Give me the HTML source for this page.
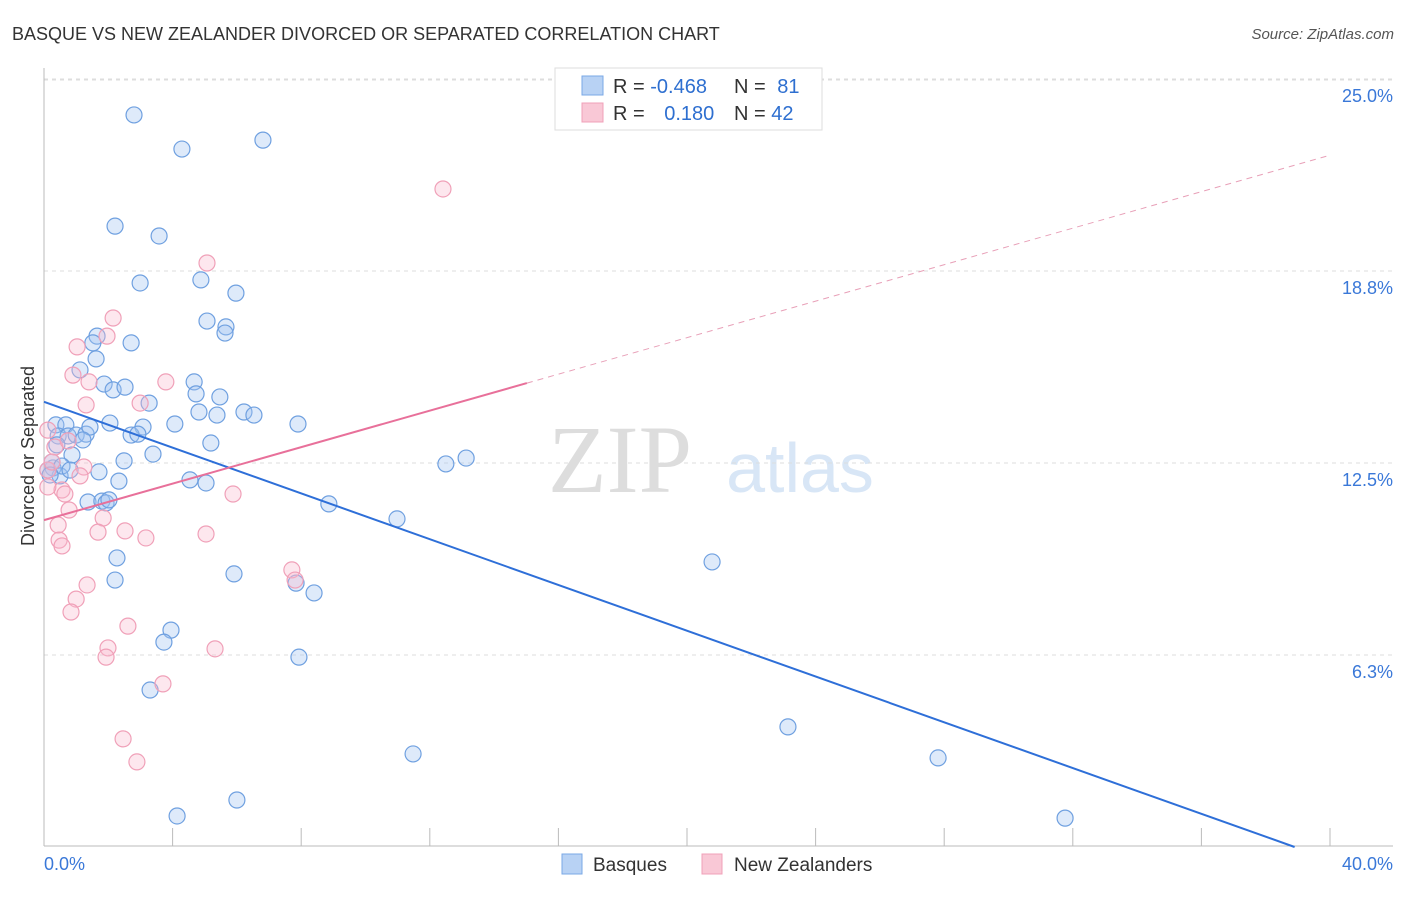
<!DOCTYPE html>
<html><head><meta charset="utf-8"><style>
body{margin:0;background:#fff;font-family:"Liberation Sans",sans-serif;}
</style></head><body>
<svg id="chart" width="1406" height="892" xmlns="http://www.w3.org/2000/svg">
<text x="12" y="40" font-size="18" fill="#333">BASQUE VS NEW ZEALANDER DIVORCED OR SEPARATED CORRELATION CHART</text>
<text x="1394" y="39" font-size="15" fill="#555" font-style="italic" text-anchor="end">Source: ZipAtlas.com</text>
<text x="34" y="456" font-size="18" fill="#333" text-anchor="middle" transform="rotate(-90 34 456)">Divorced or Separated</text>
<text x="620" y="492" font-size="96" fill="#ddd" font-family="Liberation Serif,serif" text-anchor="middle">ZIP</text>
<text x="800" y="492" font-size="70" fill="#d8e6f6" text-anchor="middle">atlas</text>
<g id="grid"></g><g id="axes"></g><g id="pts"></g><g id="lines"></g>
<g>
<rect x="555" y="68" width="267" height="62" fill="#fff" stroke="#ddd"/>
<rect x="582" y="76" width="21" height="19" fill="#b8d2f4" stroke="#7aa8e6"/>
<rect x="582" y="103" width="21" height="19" fill="#f9c8d6" stroke="#f0a0b8"/>
<text x="613" y="93" font-size="20" fill="#333">R = <tspan fill="#2e6fd0">-0.468</tspan></text>
<text x="734" y="93" font-size="20" fill="#333">N = <tspan fill="#2e6fd0" dx="6">81</tspan></text>
<text x="613" y="120" font-size="20" fill="#333">R = <tspan fill="#2e6fd0" dx="14">0.180</tspan></text>
<text x="734" y="120" font-size="20" fill="#333">N = <tspan fill="#2e6fd0">42</tspan></text>
</g>
<g>
<rect x="562" y="854" width="20" height="20" fill="#b8d2f4" stroke="#7aa8e6"/>
<text x="593" y="871" font-size="19" fill="#333">Basques</text>
<rect x="702" y="854" width="20" height="20" fill="#f9c8d6" stroke="#f0a0b8"/>
<text x="734" y="871" font-size="19" fill="#333">New Zealanders</text>
</g>
</svg>
<script>
const yTicks=[6.25,12.5,18.75,25];
const yTickLabels=["6.3%","12.5%","18.8%","25.0%"];
const xTicks=[0,4,8,12,16,20,24,28,32,36,40];
const basqueX=[2.80,4.29,6.81,2.21,3.58,2.99,4.88,5.97,5.07,5.66,5.63,2.71,1.65,1.52,1.62,1.12,1.87,2.15,2.52,4.67,4.73,5.47,3.27,6.22,6.53,4.82,5.38,2.05,3.08,4.07,7.90,0.37,0.68,0.44,0.75,1.00,1.31,1.43,2.71,2.92,5.19,3.39,2.49,0.87,0.28,0.50,1.71,2.33,4.54,5.04,1.37,1.80,1.93,8.86,10.98,12.50,13.13,2.27,5.91,2.21,7.84,8.40,20.78,3.95,3.73,7.93,3.30,23.14,11.48,27.81,6.00,4.14,31.76,0.12,0.25,0.56,1.21,0.19,0.81,0.40,2.02];
const basqueY=[23.83,22.72,23.01,20.21,19.89,18.36,18.46,18.03,17.12,16.93,16.73,16.41,16.63,16.41,15.89,15.53,15.07,14.88,14.97,15.14,14.75,14.65,14.45,14.16,14.06,14.16,14.06,13.80,13.67,13.77,13.77,13.74,13.74,13.38,13.38,13.41,13.44,13.67,13.41,13.44,13.15,12.79,12.57,12.76,12.34,12.08,12.21,11.91,11.95,11.85,11.23,11.26,11.20,11.17,10.68,12.47,12.66,9.41,8.89,8.69,8.59,8.27,9.28,7.06,6.67,6.18,5.11,3.91,3.03,2.90,1.53,1.01,0.94,12.27,12.53,12.40,13.25,12.11,12.27,13.09,11.30];
const nzX=[12.41,5.07,2.15,1.96,1.03,0.90,1.40,3.79,2.99,1.31,0.12,0.34,0.75,1.24,1.12,0.56,0.65,0.12,0.78,0.44,1.84,1.68,2.52,3.17,5.04,5.88,0.47,0.56,1.34,1.00,0.84,2.61,1.99,1.93,5.32,7.71,7.81,3.70,2.46,2.89,0.12,0.25];
const nzY=[21.42,19.01,17.22,16.63,16.28,15.36,15.14,15.14,14.45,14.39,13.57,13.02,13.22,12.37,12.08,11.62,11.49,11.72,10.97,10.48,10.71,10.25,10.29,10.06,10.19,11.49,9.99,9.80,8.53,8.07,7.65,7.19,6.48,6.18,6.45,9.02,8.69,5.31,3.52,2.77,12.27,12.53];
const basqueTrend=[14.49,-0.3725];
const nzTrend=[10.64,0.297];
const nzSolidEnd=15.02;
const NS="http://www.w3.org/2000/svg";
const sx=v=>44+v*32.15, sy=v=>847-v*30.72;
function mk(tag,attrs,parent){const e=document.createElementNS(NS,tag);for(const k in attrs)e.setAttribute(k,attrs[k]);document.getElementById(parent).appendChild(e);return e;}
yTicks.forEach((t,i)=>{
 const g=mk('line',{x1:44,x2:1393,y1:sy(t),y2:sy(t),stroke:'#ddd','stroke-dasharray':'4,4'},'grid');
 
 
 const l=mk('text',{x:1393,y:sy(t)+23,'font-size':18,fill:'#3a78d8','text-anchor':'end'},'grid');
 l.textContent=yTickLabels[i];
 
 
});
const topGrid=mk('line',{x1:44,x2:1393,y1:80,y2:80,stroke:'#ddd','stroke-dasharray':'4,4'},'grid');


const ya=mk('line',{x1:44,x2:44,y1:68,y2:846,stroke:'#bbb'},'axes');


const xa=mk('line',{x1:44,x2:1393,y1:846,y2:846,stroke:'#bbb'},'axes');


xTicks.forEach(t=>{
 const k=mk('line',{x1:sx(t),x2:sx(t),y1:828,y2:846,stroke:'#bbb'},'axes');
 
 
});
const xl0=mk('text',{x:44,y:870,'font-size':18,fill:'#3a78d8'},'axes');xl0.textContent='0.0%';


const xl1=mk('text',{x:1393,y:870,'font-size':18,fill:'#3a78d8','text-anchor':'end'},'axes');xl1.textContent='40.0%';


basqueX.forEach((v,i)=>{
 const c=mk('circle',{cx:sx(v),cy:sy(basqueY[i]),r:8,fill:'rgba(160,196,240,0.35)',stroke:'#6fa0e0','stroke-width':1.2},'pts');
 
 
});
nzX.forEach((v,i)=>{
 const c=mk('circle',{cx:sx(v),cy:sy(nzY[i]),r:8,fill:'rgba(248,185,205,0.35)',stroke:'#f0a0b8','stroke-width':1.2},'pts');
 
 
});
const bEnd=Math.min(40,-basqueTrend[0]/basqueTrend[1]);
const bl=mk('line',{x1:sx(0),y1:sy(basqueTrend[0]),x2:sx(bEnd),y2:sy(basqueTrend[0]+basqueTrend[1]*bEnd),stroke:'#2e6fd8','stroke-width':2},'lines');


const pl=mk('line',{x1:sx(0),y1:sy(nzTrend[0]),x2:sx(nzSolidEnd),y2:sy(nzTrend[0]+nzTrend[1]*nzSolidEnd),stroke:'#e8709a','stroke-width':2},'lines');


const pd=mk('line',{x1:sx(nzSolidEnd),y1:sy(nzTrend[0]+nzTrend[1]*nzSolidEnd),x2:sx(40),y2:sy(nzTrend[0]+nzTrend[1]*40),stroke:'#e8a0b8','stroke-width':1,'stroke-dasharray':'6,5'},'lines');


</script>
</body></html>
